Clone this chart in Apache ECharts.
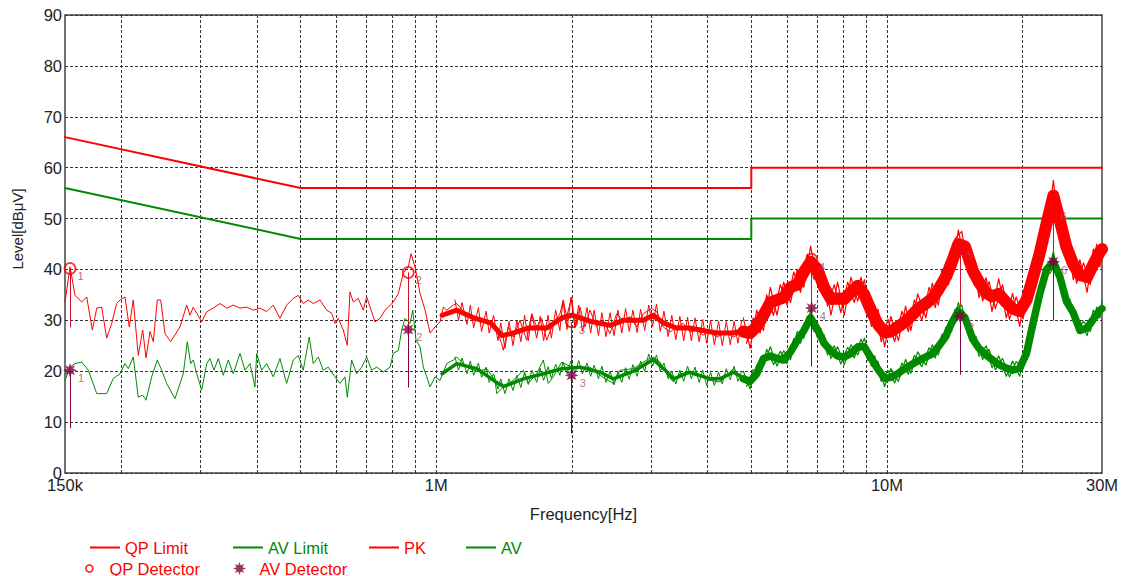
<!DOCTYPE html>
<html>
<head>
<meta charset="utf-8">
<script src="https://cdn.jsdelivr.net/npm/echarts@6/dist/echarts.min.js"></script>
<style>
html,body{margin:0;padding:0;background:#fff;}
#chart{width:1122px;height:576px;}
</style>
</head>
<body>
<div id="chart"></div>
<script>
// ---------- data (frequency in MHz, level in dBµV) ----------
const xTickLabels = [0.15, 1, 10, 30];
const gridFreq = [0.2,0.3,0.4,0.5,0.6,0.7,0.8,0.9,1,2,3,4,5,6,7,8,9,10,20];

const limFreq = [0.15, 0.5, 5, 5, 30];
const qpLimit = [66, 56, 56, 60, 60];
const avLimit = [56, 46, 46, 50, 50];

// PK trace (thin), 150 kHz .. 4.9 MHz
const pkFreq = [0.150,0.1539,0.1579,0.1634,0.1676,0.1725,0.1764,0.1809,0.1856,0.1904,
0.1953,0.1987,0.2038,0.2083,0.2126,0.2181,0.2231,0.2269,0.2316,0.2355,
0.2404,0.2446,0.2500,0.2574,0.2699,0.2793,0.2841,0.2889,0.2940,0.3016,
0.3094,0.3200,0.3311,0.3427,0.3544,0.3668,0.3795,0.3925,0.4062,0.4203,
0.4347,0.4499,0.4655,0.4815,0.4940,0.5067,0.5198,0.5333,0.5519,0.5711,
0.5859,0.5958,0.6060,0.6216,0.6345,0.6433,0.6542,0.6712,0.6885,0.7006,
0.7187,0.7310,0.7501,0.7695,0.7826,0.8029,0.8237,0.8450,0.8668,0.8789,
0.8970,0.9202,0.9441,0.9685,0.9935,1.0192,1.0366,1.0547,1.0909,1.1100,
1.1681,1.2082,1.2503,1.3158,1.3616,1.3969,1.4083,1.4447,1.4817,1.5333,
1.5867,1.6278,1.6700,1.7132,1.7576,1.8179,1.8810,1.9131,1.9467,1.9971,
2.0310,2.0837,2.1375,2.1927,2.2686,2.3465,2.4282,2.5128,2.5991,2.6894,
2.7833,2.8787,3.0050,3.0828,3.1886,3.2997,3.4146,3.5318,3.6546,3.7818,
3.9116,4.0478,4.1886,4.4082,4.5594,4.7181,4.8825];
const pkLevel = [33.6,40.5,34.9,33.6,34.6,28.1,32.4,32.6,26.5,29.4,
33.3,34.0,34.6,28.7,34.0,23.1,28.1,22.6,27.8,25.8,
34.0,34.0,27.4,25.8,28.7,33.0,31.0,32.6,31.4,29.7,
31.7,32.4,33.3,32.4,33.0,32.4,32.6,32.0,32.4,31.7,
33.0,30.4,33.0,34.3,34.9,33.3,34.0,33.3,34.0,32.0,
31.4,29.4,30.4,28.1,25.1,35.6,33.6,34.3,32.0,34.6,
31.7,29.7,30.4,32.0,32.6,33.6,35.3,39.3,40.5,43.1,
40.5,35.3,32.0,27.5,28.7,29.7,32.6,32.0,33.0,33.3,
31.0,30.0,30.0,29.7,28.1,25.4,24.1,28.7,26.7,30.0,
26.1,31.3,28.7,30.4,26.1,29.4,31.3,34.0,30.7,34.6,
28.7,32.6,28.7,32.0,28.7,30.0,27.4,31.3,30.0,30.7,
28.7,31.3,32.3,31.7,28.7,27.7,28.7,29.4,27.7,28.1,
27.1,27.7,26.7,27.7,26.7,27.4,26.5];

// PK dense band 1 - 5 MHz (centre)
const pkMidFreq = [1.03,1.11,1.21,1.32,1.40,1.48,1.60,1.76,1.90,2.00,2.20,2.43,2.60,2.88,3.03,3.19,3.41,3.65,3.91,4.19,4.56,4.72,4.85];
const pkMidLevel = [31.0,32.0,30.5,29.5,27.0,27.5,28.5,28.5,30.5,31.0,29.8,29.0,30.0,30.0,31.0,29.5,28.5,28.5,28.0,27.5,27.5,27.8,27.8];

// noise extremes 1.1 - 4.8 MHz
const midSpikeFreq = [1.10,1.12,1.14,1.17,1.19,1.21,1.24,1.26,1.29,1.31,
1.34,1.37,1.39,1.42,1.45,1.48,1.51,1.54,1.57,1.60,
1.63,1.67,1.70,1.73,1.77,1.80,1.84,1.88,1.91,1.95,
1.99,2.03,2.07,2.11,2.16,2.20,2.24,2.29,2.33,2.38,
2.43,2.48,2.53,2.58,2.63,2.68,2.73,2.79,2.84,2.90,
2.96,3.02,3.08,3.14,3.20,3.27,3.33,3.40,3.47,3.54,
3.61,3.68,3.75,3.83,3.90,3.98,4.06,4.14,4.23,4.31,
4.40,4.49,4.58,4.67,4.76];
const pkMidSpike = [34.0,30.0,33.5,29.2,33.0,28.5,32.5,27.8,31.8,27.5,
31.0,26.0,29.5,24.5,29.8,25.0,30.0,25.8,31.0,26.0,
31.2,26.5,30.8,26.0,31.0,26.5,32.0,28.0,33.8,28.2,
34.5,28.5,33.0,27.8,32.5,27.5,32.0,27.0,31.5,26.8,
31.5,27.0,32.0,27.5,32.3,27.8,32.0,27.6,32.2,28.0,
33.0,28.8,33.2,27.8,31.8,26.8,31.0,26.2,30.8,26.0,
30.6,26.0,30.5,25.8,30.2,25.5,30.0,25.2,29.8,25.0,
29.8,25.2,29.8,25.5,30.0];
const avMidSpike = [22.8,20.2,22.6,19.5,22.0,19.2,21.6,18.8,20.8,17.8,
19.5,16.5,18.5,15.6,18.5,16.2,19.2,16.8,19.8,17.4,
20.2,17.8,20.6,18.2,20.9,18.6,21.4,19.2,21.8,19.5,
22.0,19.6,22.1,19.5,21.6,19.0,21.2,18.5,21.0,17.8,
20.0,17.3,20.0,17.8,20.7,18.4,21.3,19.0,22.0,20.0,
23.4,21.0,23.2,20.0,21.6,18.5,20.0,17.5,20.2,18.0,
21.0,18.5,20.8,17.8,20.2,17.2,19.8,17.2,19.8,17.5,
20.5,18.3,21.0,18.0,20.0];

// HF band 4.8 - 30 MHz
const hfFreq = [4.80,4.97,5.14,5.32,5.51,5.70,5.90,6.11,6.32,6.54,
6.77,7.01,7.25,7.51,7.77,8.04,8.32,8.61,8.91,9.23,
9.55,9.88,10.2,10.6,11.0,11.3,11.7,12.2,12.6,13.0,
13.5,13.9,14.4,14.9,15.5,16.0,16.6,17.1,17.7,18.4,
19.0,19.7,20.4,21.1,21.8,22.6,23.4,24.2,25.0,25.9,
26.8,27.8,28.7,29.7,30.0];
const pkHfCenter = [27.8,27.5,28.8,31.0,33.5,34.0,34.5,36.5,37.0,39.5,
41.5,40.0,36.5,34.2,34.3,34.2,35.5,36.8,35.0,31.8,
29.2,27.6,27.8,28.8,29.8,30.8,32.2,33.3,34.3,36.0,
38.5,41.2,45.0,44.5,39.8,37.5,35.4,34.7,35.2,33.5,
32.3,31.8,34.0,38.5,43.0,49.0,54.5,49.5,44.5,41.0,
38.9,38.5,41.0,43.5,44.0];
const pkHfSpike = [30.5,24.5,32.0,28.0,36.5,31.0,37.5,33.5,40.0,36.5,
44.6,37.5,39.5,31.0,37.5,31.0,38.5,33.8,38.0,28.8,
32.2,24.8,30.8,26.0,32.8,28.0,35.2,30.5,37.3,33.0,
41.5,38.2,47.8,41.0,42.5,34.5,38.4,31.7,38.2,30.5,
35.3,28.8,37.0,35.5,46.0,46.0,57.5,46.5,47.5,38.0,
41.9,35.5,44.0,40.5,45.0];
const hfFreq2 = [4.88,5.05,5.23,5.41,5.60,5.80,6.00,6.21,6.43,6.65,
6.89,7.13,7.38,7.64,7.90,8.18,8.46,8.76,9.07,9.39,
9.71,10.05,10.4,10.8,11.15,11.5,11.95,12.4,12.8,13.25,
13.7,14.15,14.65,15.2,15.75,16.3,16.85,17.4,18.05,18.7,
19.35,20.05,20.75,21.45,22.2,23.0,23.8,24.6,25.45,26.35,
27.3,28.25,29.2];
const pkHfSpike2 = [25.5,30.5,27.5,35.0,31.0,37.0,33.0,39.5,35.5,43.0,
38.0,41.0,32.8,37.0,31.5,37.5,33.5,38.5,30.8,33.0,
25.8,30.2,25.8,31.8,27.8,34.0,30.0,36.5,32.5,40.0,
37.0,46.0,47.5,39.5,41.2,33.8,37.6,32.3,37.0,30.2,
34.6,30.3,38.8,38.0,48.8,49.0,55.0,44.5,45.3,37.3,
41.3,37.0,45.0];

// AV trace (thin), 150 kHz .. 4.9 MHz
const avFreq = [0.150,0.1539,0.1579,0.1634,0.1690,0.1764,0.1856,0.1920,0.1987,0.2038,
0.2073,0.2126,0.2181,0.2231,0.2269,0.2336,0.2404,0.2458,0.2522,0.2631,
0.2745,0.2802,0.2851,0.2889,0.2940,0.3016,0.3094,0.3146,0.3211,0.3283,
0.3367,0.3455,0.3544,0.3668,0.3762,0.3860,0.3959,0.3994,0.4097,0.4203,
0.4347,0.4499,0.4655,0.4815,0.4940,0.5067,0.5225,0.5333,0.5471,0.5612,
0.5758,0.5958,0.6112,0.6271,0.6345,0.6489,0.6657,0.6829,0.7006,0.7187,
0.7373,0.7629,0.7895,0.8029,0.8237,0.8381,0.8523,0.8744,0.8866,0.9016,
0.9202,0.9359,0.9523,0.9685,0.9935,1.0192,1.0547,1.0909,1.1100,1.1681,
1.2294,1.2938,1.3499,1.3616,1.4083,1.4817,1.5594,1.5998,1.6700,1.7273,
1.7720,1.8179,1.8975,1.9971,2.0837,2.1927,2.3072,2.4695,2.5556,2.7353,
2.9292,3.0297,3.1352,3.2445,3.3558,3.4727,3.6546,3.8462,4.0478,4.2600,
4.5594,4.7181,4.8825];
const avLevel = [18.2,20.8,21.5,21.8,20.2,15.6,15.6,18.6,19.5,21.5,
20.5,22.8,14.9,15.3,14.3,18.9,22.2,20.2,17.6,14.6,
19.5,25.8,21.5,22.2,19.5,16.3,21.5,22.5,20.2,22.5,
19.2,22.2,19.5,23.5,20.2,21.5,16.9,23.5,20.2,21.5,
18.9,22.5,17.6,22.2,23.1,20.2,26.7,21.5,22.8,20.2,
20.8,18.9,17.6,18.9,14.9,22.2,19.5,20.8,22.8,20.2,
20.8,19.9,20.8,23.5,24.1,28.1,30.4,29.4,32.0,26.1,
24.8,20.8,18.9,16.9,18.9,18.2,21.5,22.2,22.8,20.8,
19.9,20.5,18.2,15.6,16.9,18.2,20.2,17.6,19.5,22.2,
17.6,18.9,21.8,20.8,20.8,20.8,19.2,17.6,20.2,20.5,
22.2,22.8,21.8,19.5,17.9,19.5,19.9,19.2,18.2,17.9,
20.5,19.2,17.9];

const avMidFreq = [1.03,1.11,1.23,1.35,1.41,1.56,1.73,1.90,2.08,2.31,2.47,2.74,3.03,3.24,3.36,3.65,4.05,4.26,4.56,4.85];
const avMidLevel = [19.5,21.5,20.5,18.0,17.0,18.5,19.5,20.5,20.8,19.8,18.5,20.0,22.3,20.0,18.5,19.8,18.5,18.5,19.8,18.5];

const avHfCenter = [18.5,18.0,19.5,22.5,23.0,22.5,22.2,23.8,26.0,28.0,
30.5,28.2,25.5,24.0,23.0,22.8,23.5,24.8,24.8,22.5,
20.4,18.6,18.8,19.6,20.6,21.2,22.0,22.8,23.4,24.8,
26.8,29.4,31.8,30.5,26.3,24.5,23.2,22.3,21.3,20.6,
20.2,20.6,23.5,29.5,35.0,40.0,41.5,38.5,33.8,31.5,
28.0,28.5,30.2,32.0,32.3];
const avHfSpike = [20.0,16.5,21.2,21.0,24.8,21.0,24.0,22.3,27.8,26.5,
32.0,26.6,27.2,22.5,24.8,21.3,25.2,23.2,26.5,21.0,
22.0,17.0,20.5,18.0,22.3,19.6,23.8,21.2,25.2,23.2,
28.6,27.8,33.5,29.0,28.0,22.9,25.0,20.7,23.0,19.0,
22.0,19.0,25.2,28.0,36.8,38.5,43.5,37.0,35.5,30.0,
29.8,27.0,32.0,30.5,34.0];
const avHfSpike2 = [17.0,20.3,19.6,24.3,21.3,23.9,21.5,26.4,25.5,30.8,
27.8,28.4,23.2,25.0,21.4,24.7,22.6,26.3,22.1,23.0,
18.0,20.2,17.7,21.6,19.4,23.1,20.9,24.6,22.6,27.3,
26.6,32.1,33.0,26.9,26.9,22.3,24.3,20.3,22.5,18.9,
21.9,20.5,28.0,30.7,39.0,39.2,41.5,34.6,34.2,28.2,
29.8,27.8,32.6];

// detector readings
const detFreq = [0.1539, 0.8668, 1.997, 6.806, 14.52, 23.38];
const qpLevel = [40.2, 39.4, 29.7, 42.0, 44.5, 52.0];
const qpLow   = [28.6, 27.9, 18.2, 30.5, 33.0, 40.5];
const avDetLevel = [20.2, 28.2, 19.2, 32.4, 30.8, 41.5];
const avDetLow   = [8.8, 16.8, 7.8, 20.9, 19.3, 30.0];

// ---------- chart ----------
const RED = '#ff0000', GREEN = '#008a00', MAROON = '#800040';
const FONT = 'Liberation Sans, Arial, sans-serif';
const FS = 16.5;
const pts = (xs, ys) => xs.map((x, i) => [x, ys[i]]);
const STAR = 'path://M20,10 L14.6,12.0 L17.07,17.07 L12.0,14.6 L10,20 L8.0,14.6 L2.93,17.07 L5.4,12.0 L0,10 L5.4,8.0 L2.93,2.93 L8.0,5.4 L10,0 L12.0,5.4 L17.07,2.93 L14.6,8.0 Z';

function trace(name, data, color, width, z) {
  return { name, type: 'line', data, symbol: 'none', showSymbol: false, z,
    lineStyle: { color, width, join: 'round', cap: 'round' }, itemStyle: { color }, emphasis: { disabled: true } };
}

function legendItem(name, left, top, iconSpec, textColor) {
  return Object.assign({
    left, top, orient: 'horizontal', itemGap: 0,
    textStyle: { color: textColor, fontSize: FS, fontFamily: FONT },
    data: [Object.assign({ name }, iconSpec.item || {})]
  }, iconSpec.box);
}

const chart = echarts.init(document.getElementById('chart'), null, { renderer: 'svg' });
chart.setOption({
  animation: false,
  textStyle: { fontFamily: FONT },
  grid: { left: 65, right: 20, top: 15, bottom: 103, show: true, borderColor: '#444', borderWidth: 1.5, backgroundColor: '#fff' },
  xAxis: {
    type: 'log', logBase: 10, min: 0.15, max: 30,
    name: 'Frequency[Hz]', nameLocation: 'middle', nameGap: 32,
    nameTextStyle: { fontSize: FS, color: '#222', fontFamily: FONT },
    axisLine: { show: false }, axisTick: { show: false }, splitLine: { show: false },
    axisLabel: {
      customValues: xTickLabels, showMinLabel: true, showMaxLabel: true,
      fontSize: FS, color: '#222', margin: 3,
      formatter: v => v < 1 ? Math.round(v * 1000) + 'k' : Math.round(v) + 'M'
    }
  },
  yAxis: {
    type: 'value', min: 0, max: 90, interval: 10,
    name: 'Level[dBμV]', nameLocation: 'middle', nameGap: 40,
    nameTextStyle: { fontSize: 15, color: '#222', fontFamily: FONT, padding: [0, 0, 0, 30] },
    axisLine: { show: false }, axisTick: { show: false },
    axisLabel: { fontSize: FS, color: '#222', margin: 3 },
    splitLine: { lineStyle: { color: '#333', type: [3, 2], width: 1 } }
  },
  legend: [
    legendItem('QP Limit', 85, 534, { item: { icon: 'rect' }, box: { itemWidth: 30, itemHeight: 2 } }, RED),
    legendItem('AV Limit', 228, 534, { item: { icon: 'rect' }, box: { itemWidth: 30, itemHeight: 2 } }, GREEN),
    legendItem('PK', 364, 534, { item: { icon: 'rect' }, box: { itemWidth: 30, itemHeight: 2 } }, RED),
    legendItem('AV', 461, 534, { item: { icon: 'rect' }, box: { itemWidth: 30, itemHeight: 2 } }, GREEN),
    legendItem('QP Detector', 80, 555, { item: { icon: 'circle', itemStyle: { color: 'rgba(0,0,0,0)', borderColor: RED, borderWidth: 1.8 } }, box: { itemWidth: 30, itemHeight: 7 } }, RED),
    legendItem('AV Detector', 228, 555, { item: { icon: STAR, itemStyle: { color: MAROON } }, box: { itemWidth: 30, itemHeight: 13 } }, RED)
  ],
  series: [
    { name: 'grid', type: 'line', data: [], silent: true, z: 1,
      markLine: { z: 1, silent: true, symbol: 'none', animation: false, label: { show: false },
        lineStyle: { color: '#333', type: [3, 2], width: 1 },
        emphasis: { disabled: true },
        data: gridFreq.map(v => ({ xAxis: v })) } },
    trace('QP Limit', pts(limFreq, qpLimit), RED, 2, 3),
    trace('AV Limit', pts(limFreq, avLimit), GREEN, 2, 3),
    trace('PK', pts(pkFreq, pkLevel), RED, 1, 4),
    trace('PK', pts(pkMidFreq, pkMidLevel), RED, 5, 4),
    trace('PK', pts(midSpikeFreq, pkMidSpike), RED, 1, 4),
    trace('PK', pts(hfFreq, pkHfCenter), RED, 12, 4),
    trace('PK', pts(hfFreq, pkHfSpike), RED, 1.2, 4),
    trace('PK', pts(hfFreq2, pkHfSpike2), RED, 1.2, 4),
    trace('AV', pts(avFreq, avLevel), GREEN, 1, 5),
    trace('AV', pts(avMidFreq, avMidLevel), GREEN, 3.5, 5),
    trace('AV', pts(midSpikeFreq, avMidSpike), GREEN, 1, 5),
    trace('AV', pts(hfFreq, avHfCenter), GREEN, 7.5, 5),
    trace('AV', pts(hfFreq, avHfSpike), GREEN, 1.2, 5),
    trace('AV', pts(hfFreq2, avHfSpike2), GREEN, 1.2, 5),
    { name: 'QP Detector', type: 'scatter', z: 7,
      data: pts(detFreq, qpLevel), symbol: 'circle', symbolSize: 11,
      itemStyle: { color: 'rgba(0,0,0,0)', borderColor: RED, borderWidth: 1.8 },
      label: { show: true, position: 'right', distance: 1, offset: [0, 8], formatter: p => String(p.dataIndex + 1), fontSize: 11, color: '#b04060' },
      emphasis: { disabled: true },
      markLine: { z: 6, silent: true, symbol: 'none', animation: false, label: { show: false },
        lineStyle: { color: '#d01030', type: 'solid', width: 1 }, emphasis: { disabled: true },
        data: detFreq.map((f, i) => [{ coord: [f, qpLevel[i]] }, { coord: [f, qpLow[i]] }]) } },
    { name: 'AV Detector', type: 'scatter', z: 8,
      data: pts(detFreq, avDetLevel), symbol: STAR, symbolSize: 14,
      itemStyle: { color: MAROON },
      label: { show: true, position: 'right', distance: 1, offset: [0, 8], formatter: p => String(p.dataIndex + 1), fontSize: 11, color: '#a05070' },
      emphasis: { disabled: true },
      markLine: { z: 6, silent: true, symbol: 'none', animation: false, label: { show: false },
        lineStyle: { color: MAROON, type: 'solid', width: 1 }, emphasis: { disabled: true },
        data: detFreq.map((f, i) => [{ coord: [f, avDetLevel[i]] }, { coord: [f, avDetLow[i]] }]) } }
  ]
});
</script>
</body>
</html>
